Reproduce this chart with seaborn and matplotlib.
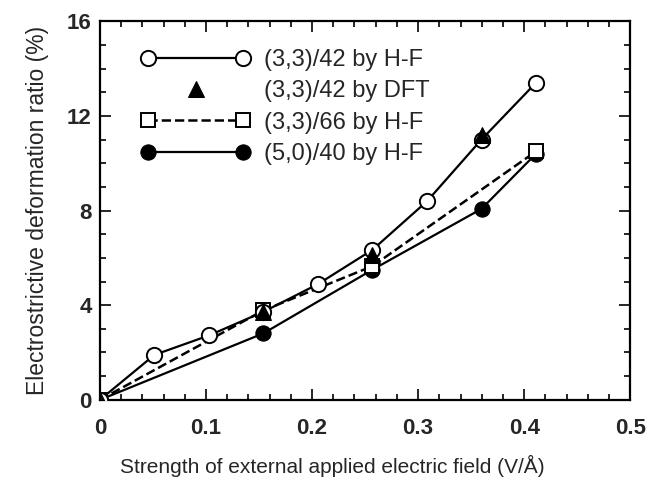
import numpy as np
import pandas as pd
import matplotlib
matplotlib.use('Agg')
import matplotlib.pyplot as plt
import seaborn as sns
from matplotlib.legend_handler import HandlerLine2D
from matplotlib.ticker import MultipleLocator

# field strength in V/A (steps of 0.001 a.u. = 0.0514 V/A)
field_hf42 = [0, 0.0514, 0.1028, 0.1542, 0.2056, 0.2570, 0.3084, 0.3598, 0.4112]
ratio_hf42 = [0, 1.9, 2.72, 3.72, 4.89, 6.34, 8.39, 11.0, 13.4]

field_dft42 = [0, 0.1542, 0.2570, 0.3598]
ratio_dft42 = [0, 3.7, 6.1, 11.2]

field_hf66 = [0, 0.1542, 0.2570, 0.4112]
ratio_hf66 = [0, 3.78, 5.65, 10.5]

field_hf40 = [0, 0.1542, 0.2570, 0.3598, 0.4112]
ratio_hf40 = [0, 2.81, 5.5, 8.07, 10.4]

labels = ['(3,3)/42 by H-F', '(3,3)/42 by DFT', '(3,3)/66 by H-F', '(5,0)/40 by H-F']

sns.set_style('ticks')
plt.rcParams['font.family'] = ['Liberation Sans', 'DejaVu Sans']

fig = plt.figure(figsize=(6.49, 4.93), dpi=100)
ax = fig.add_axes([0.154, 0.189, 0.817, 0.768])

lw = 1.6
ms = 11

sns.lineplot(x=field_hf40, y=ratio_hf40, ax=ax, color='black', lw=lw,
             marker='o', markersize=ms, markerfacecolor='black',
             markeredgecolor='black', label=labels[3], zorder=3)
sns.lineplot(x=field_hf66, y=ratio_hf66, ax=ax, color='black', lw=1.8,
             linestyle='--', dashes=(3.6, 2.4), marker='s', markersize=ms - 1,
             markerfacecolor='white', markeredgecolor='black', markeredgewidth=1.4,
             label=labels[2], zorder=4)
sns.lineplot(x=field_hf42, y=ratio_hf42, ax=ax, color='black', lw=lw,
             marker='o', markersize=ms, markerfacecolor='white',
             markeredgecolor='black', markeredgewidth=1.4,
             label=labels[0], zorder=5)
sns.lineplot(x=field_dft42, y=ratio_dft42, ax=ax, color='black', linestyle='',
             marker='^', markersize=ms, markerfacecolor='black',
             markeredgecolor='black', label=labels[1], zorder=6)

ax.set_xlim(0, 0.5)
ax.set_ylim(0, 16)
ax.xaxis.set_major_locator(MultipleLocator(0.1))
ax.xaxis.set_minor_locator(MultipleLocator(0.02))
ax.yaxis.set_major_locator(MultipleLocator(4))
ax.yaxis.set_minor_locator(MultipleLocator(1))
ax.set_xticks([0, 0.1, 0.2, 0.3, 0.4, 0.5])
ax.set_xticklabels(['0', '0.1', '0.2', '0.3', '0.4', '0.5'])
ax.tick_params(which='both', direction='in', top=True, right=True, width=1.4)
ax.tick_params(which='major', length=8, labelsize=16)
ax.tick_params(axis='x', which='major', pad=13)
ax.tick_params(axis='y', which='major', pad=6)
ax.tick_params(which='minor', length=4.5)
for t in ax.get_xticklabels() + ax.get_yticklabels():
    t.set_fontweight('bold')
for s in ax.spines.values():
    s.set_linewidth(1.6)
    s.set_color('black')

ax.set_xlabel('Strength of external applied electric field (V/Å)', fontsize=15)
ax.xaxis.set_label_coords(0.438, -0.145)
ax.set_ylabel('Electrostrictive deformation ratio (%)', fontsize=16.5, labelpad=13)

handles, labs = ax.get_legend_handles_labels()
order = [labs.index(l) for l in labels]
hs = [handles[i] for i in order]
leg = ax.legend(hs, labels, loc='upper left', frameon=False, fontsize=17,
                handlelength=4.6, numpoints=2, handletextpad=0.6,
                labelspacing=0.4, borderaxespad=0.0,
                bbox_to_anchor=(0.06, 0.952),
                handler_map={hs[1]: HandlerLine2D(numpoints=1)})

fig.savefig('out.png', dpi=100)
